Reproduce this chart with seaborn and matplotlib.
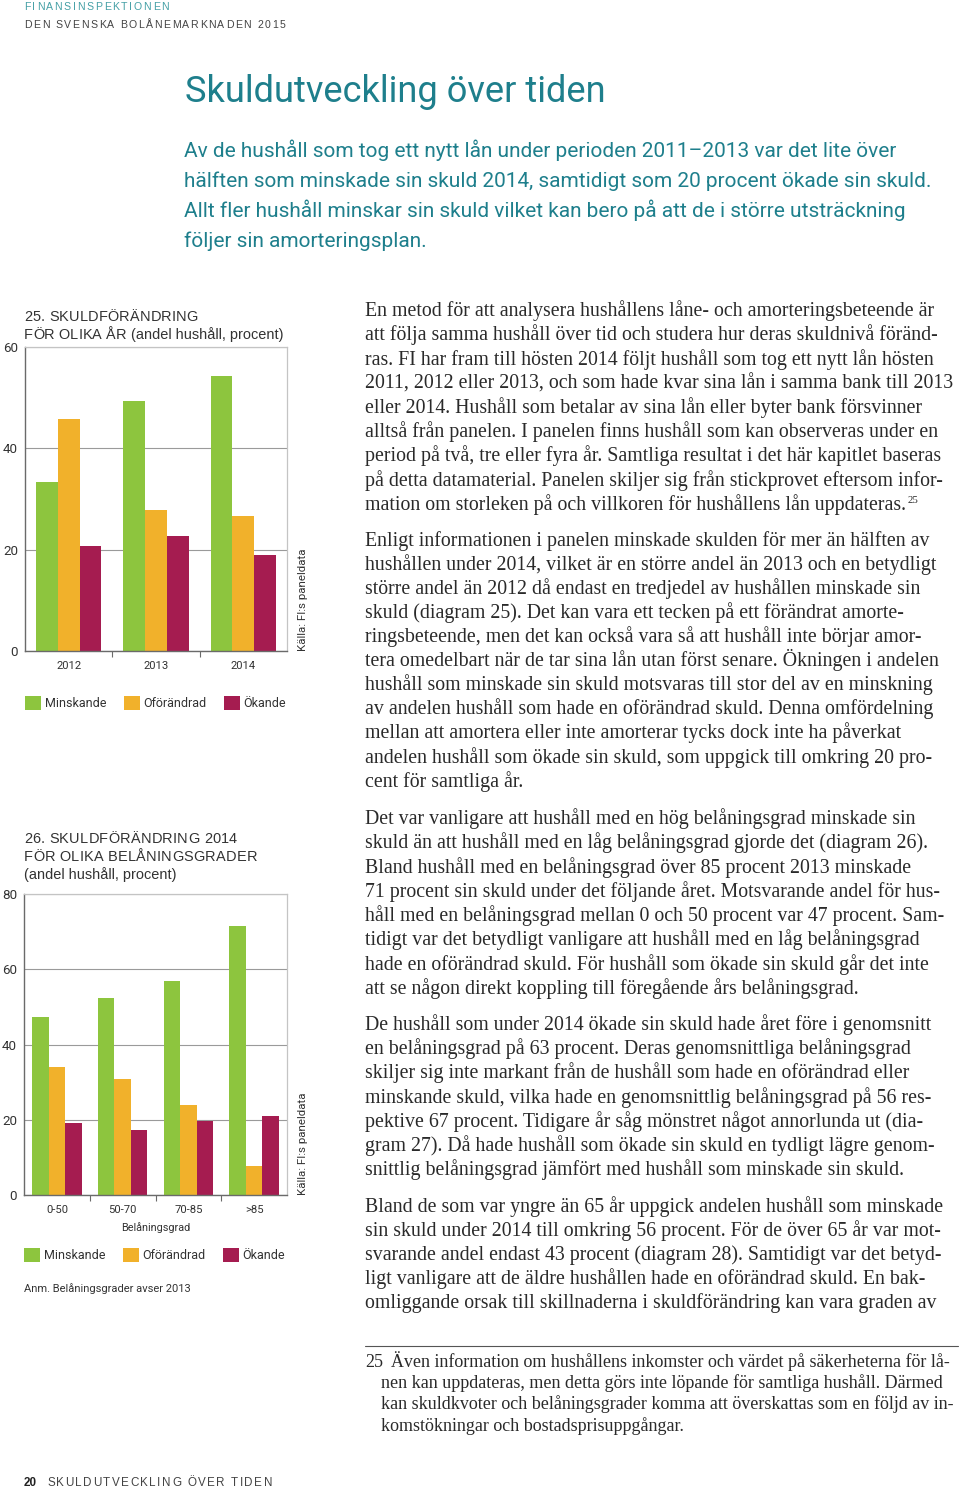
import numpy as np
import pandas as pd
import matplotlib
matplotlib.use("Agg")
import matplotlib.pyplot as plt
import seaborn as sns
from matplotlib import font_manager as fm
from matplotlib.font_manager import FontProperties

# ---------------- data ----------------
years = ["2012", "2013", "2014"]
minskande_25 = [33.4, 49.3, 54.2]
oforandrad_25 = [45.8, 27.9, 26.7]
okande_25 = [20.8, 22.7, 19.0]

grades = ["0-50", "50-70", "70-85", ">85"]
minskande_26 = [47.2, 52.4, 57.0, 71.4]
oforandrad_26 = [34.1, 30.8, 23.9, 7.8]
okande_26 = [19.1, 17.3, 19.6, 21.0]

series_names = ["Minskande", "Oförändrad", "Ökande"]
series_colors = ["#8DC53E", "#F1B12B", "#A51C50"]

# ---------------- setup ----------------
W, H = 960, 1489
sns.set_theme(style="white")
plt.rcParams['font.family'] = ['Liberation Sans', 'DejaVu Sans']
fig = plt.figure(figsize=(9.6, 14.89), dpi=100)
fig.patch.set_facecolor("white")
renderer = fig.canvas.get_renderer()

names = {f.name for f in fm.fontManager.ttflist}
COND = 'Liberation Sans Narrow' if 'Liberation Sans Narrow' in names else 'Roboto'
SANS = 'Liberation Sans'
SERIF = 'Liberation Serif'

TEAL = "#1E7F8C"
TEAL_L = "#45A0A6"
DARK = "#2a2a2a"
GREY_T = "#333333"


def px_w(s, family, size, weight='normal'):
    fp = FontProperties(family=family, size=size, weight=weight)
    w, h, d = renderer.get_text_width_height_descent(s, fp, ismath=False)
    return w


def adv(c, family, size, weight='normal'):
    return px_w('H' + c + 'H', family, size, weight) - px_w('HH', family, size, weight)


def fit(s, family, target, weight='normal'):
    return 10.0 * target / px_w(s, family, 10, weight)


def put(x, y, s, **kw):
    kw.setdefault('va', 'baseline')
    kw.setdefault('ha', 'left')
    return fig.text(x / W, 1 - y / H, s, **kw)


def tracked(x, y, s, family, size, target, color, weight='normal'):
    ws = [adv(c, family, size, weight) for c in s]
    tr = (target - sum(ws)) / max(len(s) - 1, 1)
    cx = x
    for c, w in zip(s, ws):
        if c != ' ':
            put(cx, y, c, family=family, size=size, color=color, weight=weight)
        cx += w + tr
    return cx


def para(lines, x, y0, dy, family, size, color):
    for i, ln in enumerate(lines):
        put(x, y0 + i * dy, ln, family=family, size=size, color=color)


# ---------------- page header ----------------
hs = 7.6
tracked(24, 10, "FINANSINSPEKTIONEN", SANS, hs, 145, TEAL_L)
tracked(24, 28, "DEN SVENSKA BOLÅNEMARKNADEN 2015", SANS, hs, 261, "#444444")

title = "Skuldutveckling över tiden"
put(185, 102, title, family=COND, size=fit(title, COND, 420), color=TEAL)

intro = [
    "Av de hushåll som tog ett nytt lån under perioden 2011\u20132013 var det lite över",
    "hälften som minskade sin skuld 2014, samtidigt som 20 procent ökade sin skuld.",
    "Allt fler hushåll minskar sin skuld vilket kan bero på att de i större utsträckning",
    "följer sin amorteringsplan.",
]
isz = fit(intro[1], COND, 751)
para(intro, 184, 157, 30, COND, isz, TEAL)

# ---------------- body text ----------------
p1 = [
    "En metod för att analysera hushållens låne- och amorteringsbeteende är",
    "att följa samma hushåll över tid och studera hur deras skuldnivå föränd-",
    "ras. FI har fram till hösten 2014 följt hushåll som tog ett nytt lån hösten",
    "2011, 2012 eller 2013, och som hade kvar sina lån i samma bank till 2013",
    "eller 2014. Hushåll som betalar av sina lån eller byter bank försvinner",
    "alltså från panelen. I panelen finns hushåll som kan observeras under en",
    "period på två, tre eller fyra år. Samtliga resultat i det här kapitlet baseras",
    "på detta datamaterial. Panelen skiljer sig från stickprovet eftersom infor-",
    "mation om storleken på och villkoren för hushållens lån uppdateras.",
]
p2 = [
    "Enligt informationen i panelen minskade skulden för mer än hälften av",
    "hushållen under 2014, vilket är en större andel än 2013 och en betydligt",
    "större andel än 2012 då endast en tredjedel av hushållen minskade sin",
    "skuld (diagram 25). Det kan vara ett tecken på ett förändrat amorte-",
    "ringsbeteende, men det kan också vara så att hushåll inte börjar amor-",
    "tera omedelbart när de tar sina lån utan först senare. Ökningen i andelen",
    "hushåll som minskade sin skuld motsvaras till stor del av en minskning",
    "av andelen hushåll som hade en oförändrad skuld. Denna omfördelning",
    "mellan att amortera eller inte amorterar tycks dock inte ha påverkat",
    "andelen hushåll som ökade sin skuld, som uppgick till omkring 20 pro-",
    "cent för samtliga år.",
]
p3 = [
    "Det var vanligare att hushåll med en hög belåningsgrad minskade sin",
    "skuld än att hushåll med en låg belåningsgrad gjorde det (diagram 26).",
    "Bland hushåll med en belåningsgrad över 85 procent 2013 minskade",
    "71 procent sin skuld under det följande året. Motsvarande andel för hus-",
    "håll med en belåningsgrad mellan 0 och 50 procent var 47 procent. Sam-",
    "tidigt var det betydligt vanligare att hushåll med en låg belåningsgrad",
    "hade en oförändrad skuld. För hushåll som ökade sin skuld går det inte",
    "att se någon direkt koppling till föregående års belåningsgrad.",
]
p4 = [
    "De hushåll som under 2014 ökade sin skuld hade året före i genomsnitt",
    "en belåningsgrad på 63 procent. Deras genomsnittliga belåningsgrad",
    "skiljer sig inte markant från de hushåll som hade en oförändrad eller",
    "minskande skuld, vilka hade en genomsnittlig belåningsgrad på 56 res-",
    "pektive 67 procent. Tidigare år såg mönstret något annorlunda ut (dia-",
    "gram 27). Då hade hushåll som ökade sin skuld en tydligt lägre genom-",
    "snittlig belåningsgrad jämfört med hushåll som minskade sin skuld.",
]
p5 = [
    "Bland de som var yngre än 65 år uppgick andelen hushåll som minskade",
    "sin skuld under 2014 till omkring 56 procent. För de över 65 år var mot-",
    "svarande andel endast 43 procent (diagram 28). Samtidigt var det betyd-",
    "ligt vanligare att de äldre hushållen hade en oförändrad skuld. En bak-",
    "omliggande orsak till skillnaderna i skuldförändring kan vara graden av",
]
bsz = fit(p1[3], SERIF, 588)
BX = 365
para(p1, BX, 316, 24.25, SERIF, bsz, DARK)
endx = BX + px_w(p1[-1], SERIF, bsz)
put(endx + 2, 503, "25", family=SERIF, size=bsz * 0.55, color=DARK)
para(p2, BX, 545.7, 24.1, SERIF, bsz, DARK)
para(p3, BX, 824, 24.3, SERIF, bsz, DARK)
para(p4, BX, 1030, 24.2, SERIF, bsz, DARK)
para(p5, BX, 1211.7, 24.15, SERIF, bsz, DARK)

# footnote
fig.add_artist(plt.Line2D([365 / W, 958 / W], [1 - 1346 / H, 1 - 1346 / H],
                          color="#555555", lw=0.8))
fn = [
    "Även information om hushållens inkomster och värdet på säkerheterna för lå-",
    "nen kan uppdateras, men detta görs inte löpande för samtliga hushåll. Därmed",
    "kan skuldkvoter och belåningsgrader komma att överskattas som en följd av in-",
    "komstökningar och bostadsprisuppgångar.",
]
fsz = min(fit(fn[0], SERIF, 560), fit(fn[1], SERIF, 572), fit(fn[2], SERIF, 572))
put(365, 1366.7, "25", family=SERIF, size=fsz, color=DARK)
put(391, 1366.7, fn[0], family=SERIF, size=fsz, color=DARK)
para(fn[1:], 381, 1366.7 + 21.3, 21.3, SERIF, fsz, DARK)

# page footer
put(24, 1486.5, "20", family=SANS, size=8.4, weight='bold', color="#222222")
tracked(47, 1486.5, "SKULDUTVECKLING ÖVER TIDEN", SANS, 8.4, 225, "#444444")

# ---------------- charts ----------------
ysz = fit("60", COND, 15)
xsz = fit("2012", COND, 25)
lsz = fit("Minskande", COND, 61)
ksz = fit("Källa: FI:s paneldata", COND, 102)


def make_chart(rect_px, cats, m, o, k, ymax, leg_y):
    left, top, right, bottom = rect_px
    ax = fig.add_axes([left / W, 1 - bottom / H, (right - left) / W, (bottom - top) / H])
    df = pd.DataFrame({
        "Kategori": list(cats) * 3,
        "Serie": [n for n in series_names for _ in cats],
        "Andel": list(m) + list(o) + list(k),
    })
    sns.barplot(data=df, x="Kategori", y="Andel", hue="Serie", order=cats,
                hue_order=series_names, palette=series_colors, width=0.75,
                gap=0, saturation=1, errorbar=None, linewidth=0, ax=ax)
    ax.set_xlim(-0.5, len(cats) - 0.5)
    ax.set_ylim(0, ymax)
    ax.set_yticks(np.arange(0, ymax + 1, 20))
    ax.yaxis.grid(True, color="#9a9a9a", lw=0.8)
    ax.xaxis.grid(False)
    ax.set_axisbelow(True)
    for s in ("left", "bottom"):
        ax.spines[s].set_color("#6a6a6a")
        ax.spines[s].set_linewidth(1.0)
    for s in ("top", "right"):
        ax.spines[s].set_color("#c4c4c4")
        ax.spines[s].set_linewidth(0.9)
    ax.tick_params(axis='y', length=0, pad=5, labelsize=ysz, labelcolor=GREY_T)
    for t in ax.get_yticklabels():
        t.set_family(COND)
    ax.tick_params(axis='x', which='major', length=0, pad=7, labelsize=xsz, labelcolor=GREY_T)
    for t in ax.get_xticklabels():
        t.set_family(COND)
    ax.set_xticks(np.arange(len(cats) - 1) + 0.5, minor=True)
    ax.tick_params(axis='x', which='minor', length=4, width=0.8, color="#6a6a6a",
                   direction='out', bottom=True)
    ax.set_xlabel("")
    ax.set_ylabel("")
    handles, labels = ax.get_legend_handles_labels()
    if ax.get_legend() is not None:
        ax.get_legend().remove()
    fs_px = lsz * 100 / 72
    ax.legend(handles, labels, loc='center left', bbox_to_anchor=(0.0, leg_y),
              ncol=3, frameon=False, borderpad=0, borderaxespad=0,
              handlelength=16 / fs_px, handleheight=16 / fs_px,
              handletextpad=4 / fs_px, columnspacing=17 / fs_px,
              prop=FontProperties(family=COND, size=lsz), labelcolor=GREY_T)
    ax.text(1.061, 0.0, "Källa: FI:s paneldata", rotation=90, transform=ax.transAxes,
            ha='center', va='bottom', family=COND, size=ksz, color=GREY_T)
    return ax


ax25 = make_chart((25, 347, 287, 651), years, minskande_25, oforandrad_25, okande_25,
                  60, (651 - 703) / 304)
ax26 = make_chart((24, 894, 287, 1195), grades, minskande_26, oforandrad_26, okande_26,
                  80, (1195 - 1255) / 301)

bl = "Belåningsgrad"
ax26.set_xlabel(bl, family=COND, size=fit(bl, COND, 69), color=GREY_T, labelpad=5)

# chart titles
csz = fit("(andel hushåll, procent)", SANS, 152)
tracked(24, 320.7, "25. SKULDFÖRÄNDRING", SANS, csz, 174, GREY_T)
tracked(24, 339, "FÖR OLIKA ÅR", SANS, csz, 102, GREY_T)
put(131, 339, "(andel hushåll, procent)", family=SANS, size=csz, color=GREY_T)

tracked(24, 842.7, "26. SKULDFÖRÄNDRING 2014", SANS, csz, 213, GREY_T)
tracked(24, 860.7, "FÖR OLIKA BELÅNINGSGRADER", SANS, csz, 233, GREY_T)
put(24, 879.3, "(andel hushåll, procent)", family=SANS, size=csz, color=GREY_T)

anm = "Anm. Belåningsgrader avser 2013"
put(24, 1292, anm, family=COND, size=fit(anm, COND, 166), color=GREY_T)

fig.savefig("out.png", dpi=100, facecolor="white")
